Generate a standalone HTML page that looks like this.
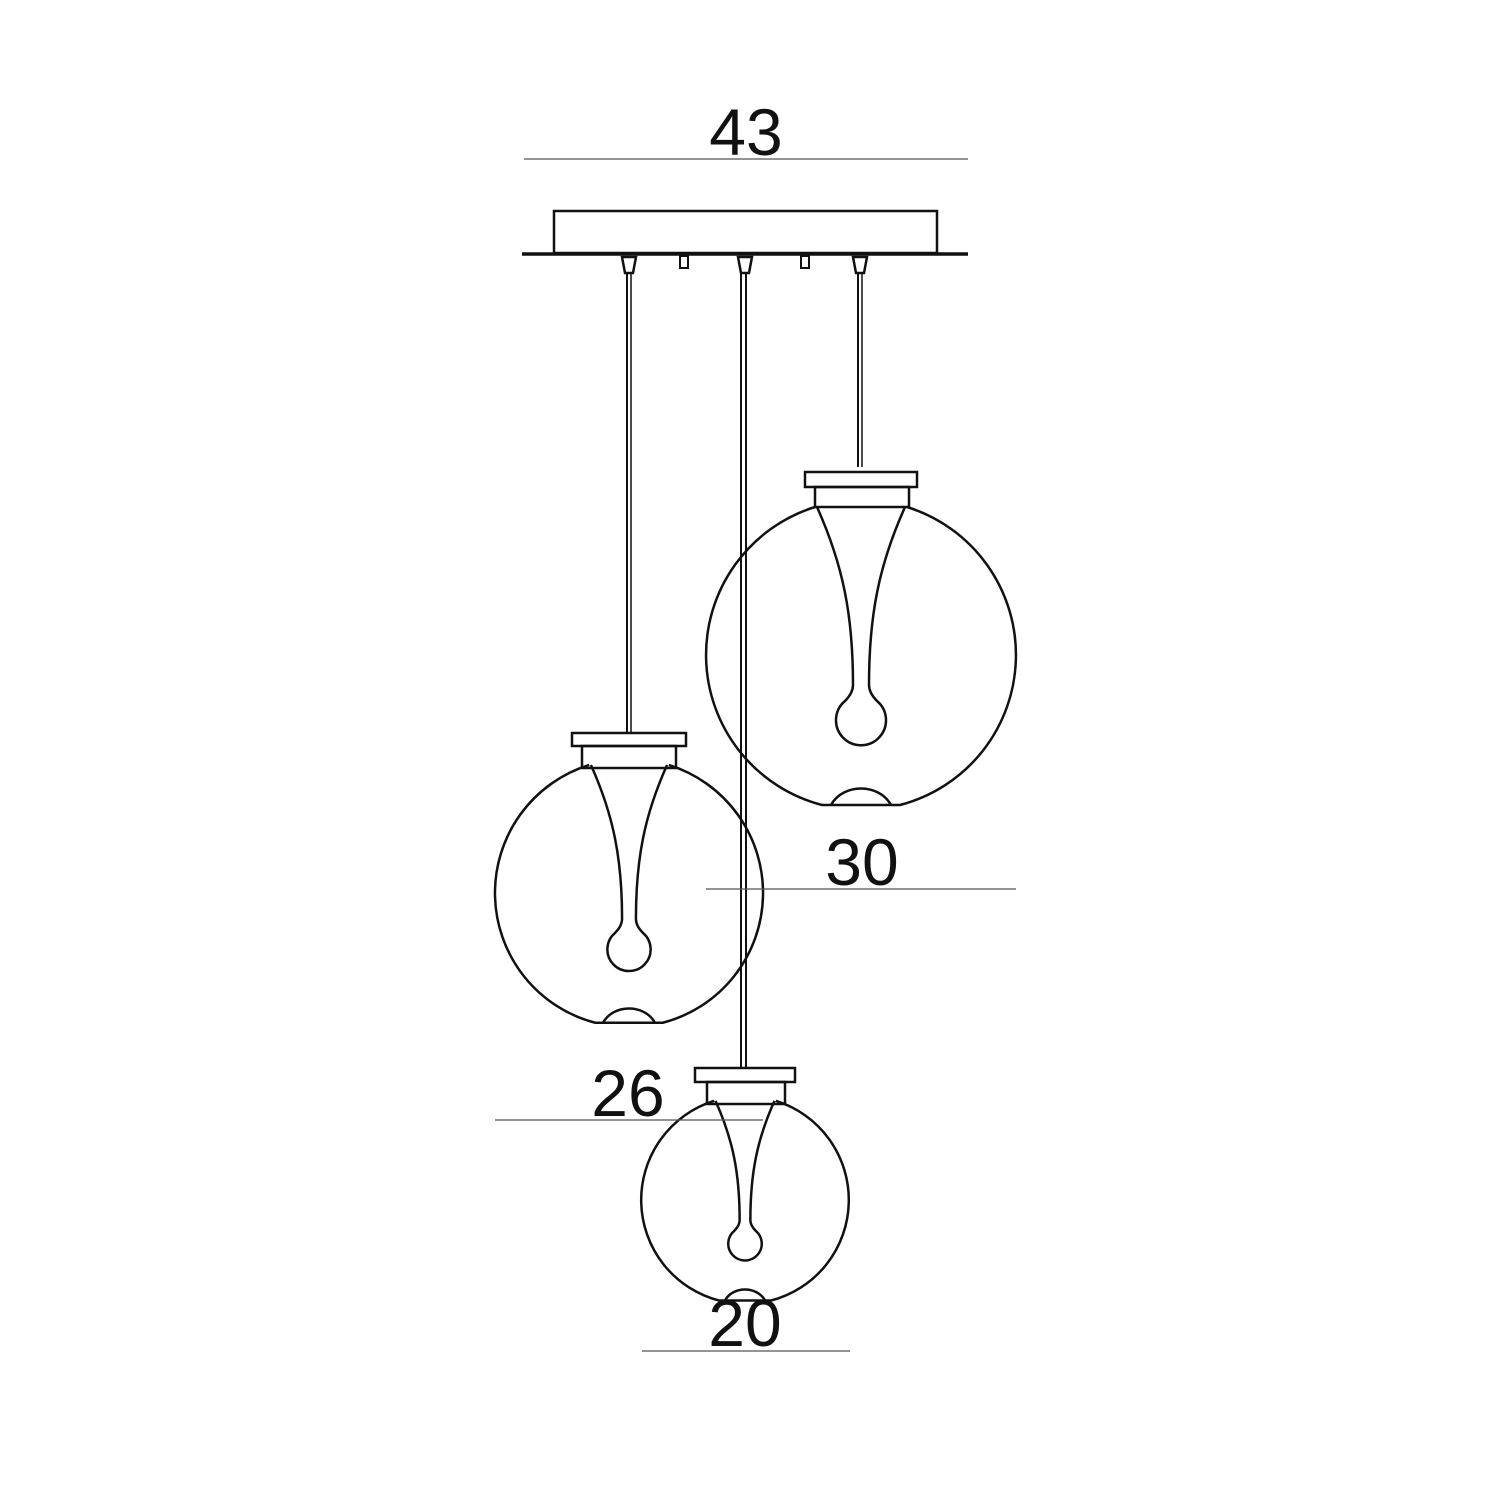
<!DOCTYPE html>
<html><head><meta charset="utf-8"><style>
html,body{margin:0;padding:0;background:#fff}
svg{display:block}
text{font-family:"Liberation Sans",sans-serif;fill:#111}
</style></head><body>
<svg width="1512" height="1512" viewBox="0 0 1512 1512" xmlns="http://www.w3.org/2000/svg">
<defs>
<g id="globe" fill="none" stroke="#111" stroke-width="2.5">
<path vector-effect="non-scaling-stroke" d="M -46 -148 A 155 155 0 0 0 -39 150 L 39 150 A 155 155 0 0 0 46 -148"/>
<path vector-effect="non-scaling-stroke" d="M -30 150 C -18 128 18 128 30 150"/>
<path vector-effect="non-scaling-stroke" d="M -44 -148 C -18 -90 -8 -40 -8 30 Q -8 38 -16 46 A 25 25 0 1 0 16 46 Q 8 38 8 30 C 8 -40 18 -90 44 -148"/>
</g>
</defs>
<g fill="none" stroke="#111" stroke-width="2.5">
<rect x="554" y="211" width="383" height="42"/>
<line x1="522" y1="254" x2="968" y2="254" stroke-width="3.5"/>
<path d="M622 257 L636 257 L633 273 L625 273 Z"/>
<path d="M738 257 L752 257 L749 273 L741 273 Z"/>
<path d="M853 257 L867 257 L864 273 L856 273 Z"/>
<rect x="680" y="256" width="8" height="12" stroke-width="2"/>
<rect x="801" y="256" width="8" height="12" stroke-width="2"/>
<line x1="627" y1="273" x2="627" y2="733" stroke-width="2"/>
<line x1="631" y1="273" x2="631" y2="733" stroke-width="1.5"/>
<line x1="741" y1="273" x2="741" y2="1067" stroke-width="2"/>
<line x1="746" y1="273" x2="746" y2="1067" stroke-width="2"/>
<line x1="858" y1="273" x2="858" y2="467" stroke-width="2"/>
<line x1="862" y1="273" x2="862" y2="467" stroke-width="1.5"/>
<rect x="805" y="472" width="112" height="15"/>
<rect x="815" y="487" width="94" height="20"/>
<rect x="572" y="733" width="114" height="13"/>
<rect x="582" y="746" width="94" height="22"/>
<rect x="695" y="1068" width="100" height="14"/>
<rect x="707" y="1082" width="78" height="22"/>
</g>
<use href="#globe" transform="translate(861,655)"/>
<use href="#globe" transform="translate(629,893) scale(0.865)"/>
<use href="#globe" transform="translate(745,1200) scale(0.67)"/>
<g stroke="#555" stroke-width="1.3">
<line x1="524" y1="159" x2="968" y2="159"/>
<line x1="706" y1="889" x2="1016" y2="889"/>
<line x1="495" y1="1120" x2="763" y2="1120"/>
<line x1="642" y1="1351" x2="850" y2="1351"/>
</g>
<g font-size="66" text-anchor="middle">
<text x="746" y="155">43</text>
<text x="862" y="885">30</text>
<text x="628" y="1116">26</text>
<text x="745" y="1346">20</text>
</g>
</svg>
</body></html>
